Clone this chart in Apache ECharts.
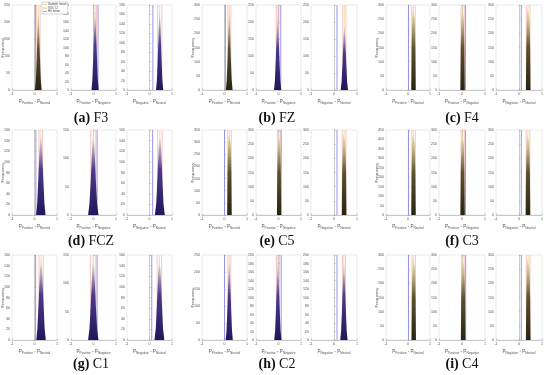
<!DOCTYPE html>
<html><head><meta charset="utf-8">
<script src="https://cdn.jsdelivr.net/npm/echarts@6/dist/echarts.min.js"></script>
<style>html,body{margin:0;padding:0;background:#fff}#c{width:550px;height:375px}</style>
</head><body><div id="c"></div>
<script>
// ---------- data ----------
const panelTitles = [['(a)','F3'],['(b)','FZ'],['(c)','F4'],['(d)','FCZ'],['(e)','C5'],['(f)','C3'],['(g)','C1'],['(h)','C2'],['(i)','C4']];
const xNames = [['Positive','Neutral'],['Positive','Negative'],['Negative','Neutral']];
const legendNames = ['Sample mean','95% CI','H0 mean'];
const yMax  = [[250,200,180],[300,250,250],[300,300,300],[160,150,160],[350,300,300],[450,300,300],[160,150,160],[250,200,200],[300,300,300]];
const yStep = [[50,20,20],[50,50,50],[50,50,50],[20,50,20],[50,50,50],[50,50,50],[20,50,20],[50,20,20],[50,50,50]];
const h0Mean = [[0.04,0.20,0.15],[0.04,0.10,0.13],[0.02,0.15,0.10],[0.06,0.16,0.14],[0.00,0.12,0.13],[0.02,0.15,0.10],[0.05,0.16,0.10],[0.00,0.12,0.13],[0.02,0.16,0.10]];
const ciLow  = [[0.10,0.01,0.36],[0.15,-0.10,0.38],[0.17,-0.04,0.32],[0.20,-0.12,0.36],[0.14,-0.04,0.36],[0.17,-0.04,0.31],[0.20,-0.13,0.34],[0.15,-0.09,0.37],[0.18,-0.02,0.32]];
const ciHigh = [[0.25,0.13,0.55],[0.28,0.02,0.52],[0.33,0.10,0.48],[0.36,0.10,0.56],[0.30,0.10,0.52],[0.33,0.10,0.47],[0.39,0.10,0.54],[0.28,0.04,0.50],[0.34,0.12,0.48]];
const sampleMean = [[0.17,0.07,0.45],[0.21,-0.04,0.45],[0.25,0.03,0.40],[0.28,-0.01,0.46],[0.22,0.03,0.44],[0.25,0.03,0.39],[0.29,-0.01,0.44],[0.21,-0.03,0.43],[0.26,0.05,0.40]];
const tones = [['o','p','p'],['o','p','p'],['o','o','o'],['p','p','p'],['o','o','o'],['o','o','o'],['p','p','p'],['p','p','p'],['o','o','o']];

// bootstrap histograms: [difference, frequency]
const histF3 = [
  [[0.02,0],[0.06,28],[0.10,95],[0.135,180],[0.17,240],[0.205,185],[0.24,100],[0.28,30],[0.32,0]],
  [[-0.09,0],[-0.05,24],[-0.01,80],[0.035,148],[0.07,195],[0.105,150],[0.15,82],[0.19,25],[0.23,0]],
  [[0.29,0],[0.33,22],[0.37,70],[0.41,132],[0.45,175],[0.49,135],[0.53,72],[0.57,22],[0.61,0]]];
const histFZ = [
  [[0.06,0],[0.10,35],[0.14,115],[0.175,218],[0.21,290],[0.245,222],[0.28,118],[0.32,36],[0.36,0]],
  [[-0.20,0],[-0.16,27],[-0.12,90],[-0.08,170],[-0.04,225],[0.00,172],[0.04,92],[0.08,28],[0.12,0]],
  [[0.29,0],[0.33,24],[0.37,80],[0.41,150],[0.45,200],[0.49,152],[0.53,82],[0.57,25],[0.61,0]]];
const histF4 = [
  [[0.15,0],[0.165,150],[0.19,255],[0.22,292],[0.25,298],[0.28,290],[0.31,250],[0.335,145],[0.35,0]],
  [[-0.07,0],[-0.055,150],[-0.03,255],[0.00,292],[0.025,298],[0.05,290],[0.08,250],[0.105,145],[0.12,0]],
  [[0.30,0],[0.315,150],[0.34,255],[0.37,292],[0.40,298],[0.43,290],[0.46,250],[0.485,145],[0.50,0]]];
const histFCZ = [
  [[0.07,0],[0.12,22],[0.17,68],[0.225,125],[0.28,155],[0.335,128],[0.39,70],[0.44,22],[0.49,0]],
  [[-0.24,0],[-0.18,20],[-0.12,62],[-0.065,118],[-0.01,145],[0.045,120],[0.10,64],[0.16,20],[0.22,0]],
  [[0.24,0],[0.30,22],[0.35,68],[0.405,125],[0.46,155],[0.515,128],[0.57,70],[0.62,22],[0.68,0]]];
const histC5 = [
  [[0.12,0],[0.135,175],[0.16,298],[0.19,340],[0.22,348],[0.25,338],[0.28,292],[0.305,170],[0.32,0]],
  [[-0.07,0],[-0.055,150],[-0.03,255],[0.00,292],[0.025,298],[0.05,290],[0.08,250],[0.105,145],[0.12,0]],
  [[0.34,0],[0.355,150],[0.38,255],[0.41,292],[0.44,298],[0.47,290],[0.50,250],[0.525,145],[0.54,0]]];
const histC3 = [
  [[0.15,0],[0.165,225],[0.19,385],[0.22,438],[0.25,446],[0.28,436],[0.31,378],[0.335,218],[0.35,0]],
  [[-0.07,0],[-0.055,150],[-0.03,255],[0.00,292],[0.025,298],[0.05,290],[0.08,250],[0.105,145],[0.12,0]],
  [[0.29,0],[0.305,150],[0.33,255],[0.36,292],[0.39,298],[0.42,290],[0.45,250],[0.475,145],[0.49,0]]];
const histC1 = [
  [[0.08,0],[0.13,22],[0.18,68],[0.235,125],[0.29,155],[0.345,128],[0.40,70],[0.45,22],[0.50,0]],
  [[-0.24,0],[-0.18,20],[-0.12,62],[-0.065,118],[-0.01,145],[0.045,120],[0.10,64],[0.16,20],[0.22,0]],
  [[0.22,0],[0.28,22],[0.33,68],[0.385,125],[0.44,155],[0.495,128],[0.55,70],[0.60,22],[0.66,0]]];
const histC2 = [
  [[0.05,0],[0.09,28],[0.13,95],[0.17,180],[0.21,240],[0.25,185],[0.29,100],[0.33,30],[0.37,0]],
  [[-0.19,0],[-0.15,22],[-0.11,76],[-0.07,142],[-0.03,190],[0.01,145],[0.05,78],[0.09,23],[0.13,0]],
  [[0.27,0],[0.31,22],[0.35,76],[0.39,142],[0.43,190],[0.47,145],[0.51,78],[0.55,23],[0.59,0]]];
const histC4 = [
  [[0.16,0],[0.175,150],[0.20,255],[0.23,292],[0.26,298],[0.29,290],[0.32,250],[0.345,145],[0.36,0]],
  [[-0.05,0],[-0.035,150],[-0.01,255],[0.02,292],[0.05,298],[0.08,290],[0.11,250],[0.135,145],[0.15,0]],
  [[0.30,0],[0.315,150],[0.34,255],[0.37,292],[0.40,298],[0.43,290],[0.46,250],[0.485,145],[0.50,0]]];
const hists = [histF3, histFZ, histF4, histFCZ, histC5, histC3, histC1, histC2, histC4];

// ---------- layout ----------
const subCols = [[[12,57],[71,116],[127,172]], [[202,247],[256,301],[311,357]], [[386,430],[439,485],[496,542]]];
const rowTop = [5,130,255], rowBottom = [90,215,340];
const captionX = [91,277,462], captionY = [118,241,364];

const toneStops = {
  p: [{offset:0,color:'#f8f1de'},{offset:0.18,color:'#c2aebc'},{offset:0.45,color:'#4c3a8c'},{offset:1,color:'#22165a'}],
  o: [{offset:0,color:'#f6ebc4'},{offset:0.2,color:'#cdb987'},{offset:0.5,color:'#5b5130'},{offset:1,color:'#282411'}]
};
const lineColors = {mean:'#e9cf7a', ci:'#f2a0a0', h0:'#9088ee'};

const grids=[], xAxes=[], yAxes=[], series=[], graphics=[];
const tickFont = 'Liberation Sans';
for (let p=0;p<9;p++){
  const row=Math.floor(p/3), col=p%3;
  for (let s=0;s<3;s++){
    const gi=p*3+s;
    const [l,r]=subCols[col][s];
    const top=rowTop[row], h=rowBottom[row]-rowTop[row];
    grids.push({left:l,top:top,width:r-l,height:h,show:true,borderColor:'#d4d4d4',borderWidth:0.5,
      backgroundColor:'rgba(0,0,0,0)',containLabel:false,outerBoundsMode:'none'});
    xAxes.push({type:'value',gridIndex:gi,min:-1,max:1,interval:1,
      axisLine:{onZero:false,lineStyle:{color:'#9a9a9a',width:0.5}},
      axisTick:{inside:true,length:1.5,lineStyle:{color:'#9a9a9a',width:0.5}},
      axisLabel:{fontSize:3.6,color:'#555',margin:2,fontFamily:tickFont},
      splitLine:{show:false},
      name:'{p|P}{s|'+xNames[s][0]+'}{p| - P}{s|'+xNames[s][1]+'}',
      nameLocation:'middle',nameGap:9,nameMoveOverlap:false,
      nameTextStyle:{color:'#555',fontFamily:tickFont,rich:{
        p:{fontSize:4.6,color:'#555',fontFamily:tickFont,verticalAlign:'bottom'},
        s:{fontSize:3.2,color:'#555',fontFamily:tickFont,verticalAlign:'bottom',padding:[0,0,-1,0]}}}
    });
    yAxes.push({type:'value',gridIndex:gi,min:0,max:yMax[p][s],interval:yStep[p][s],
      axisLine:{show:true,lineStyle:{color:'#9a9a9a',width:0.5}},
      axisTick:{show:true,inside:true,length:1.5,lineStyle:{color:'#9a9a9a',width:0.5}},
      axisLabel:{fontSize:3.6,color:'#555',margin:2,fontFamily:tickFont},
      splitLine:{show:false},
      name: s===0?'Frequency':'', nameLocation:'middle', nameGap:7.5, nameMoveOverlap:false,
      nameTextStyle:{fontSize:4.2,color:'#555',fontFamily:tickFont}
    });
    series.push({type:'line',xAxisIndex:gi,yAxisIndex:gi,data:hists[p][s],symbol:'none',
      lineStyle:{width:0},silent:true,z:3,
      areaStyle:{opacity:1,color:new echarts.graphic.LinearGradient(0,0,0,1,toneStops[tones[p][s]])}});
    const ym=yMax[p][s];
    const vline=(name,x,color,w)=>({type:'line',name:name,xAxisIndex:gi,yAxisIndex:gi,
      data:[[x,0],[x,ym]],symbol:'none',silent:true,z:2,color:color,lineStyle:{color:color,width:w}});
    series.push(vline('H0 mean',h0Mean[p][s],lineColors.h0,0.9));
    series.push(vline('95% CI',ciLow[p][s],lineColors.ci,0.6));
    series.push(vline('95% CI',ciHigh[p][s],lineColors.ci,0.6));
    series.push(vline('Sample mean',sampleMean[p][s],lineColors.mean,0.6));
  }
  graphics.push({type:'text',x:captionX[col],y:captionY[row],
    style:{text:'{b|'+panelTitles[p][0]+'} {n|'+panelTitles[p][1]+'}',textAlign:'center',textVerticalAlign:'middle',
      rich:{b:{fontSize:14,fontWeight:'bold',fontFamily:'Liberation Serif',fill:'#111'},
            n:{fontSize:14,fontFamily:'Liberation Serif',fill:'#111'}}}});
}

const chart=echarts.init(document.getElementById('c'));
chart.setOption({
  animation:false,
  backgroundColor:'#fff',
  grid:grids, xAxis:xAxes, yAxis:yAxes, series:series, graphic:graphics,
  legend:{data:legendNames,left:42,top:2,orient:'vertical',icon:'rect',itemWidth:4,itemHeight:0.8,itemGap:0.4,
    padding:[0.8,1.2,0.8,1],backgroundColor:'#fff',borderColor:'#aaa',borderWidth:0.5,selectedMode:false,
    textStyle:{fontSize:3,lineHeight:3.2,color:'#444',fontFamily:tickFont,padding:[0,0,0,-4]}}
});
</script></body></html>
